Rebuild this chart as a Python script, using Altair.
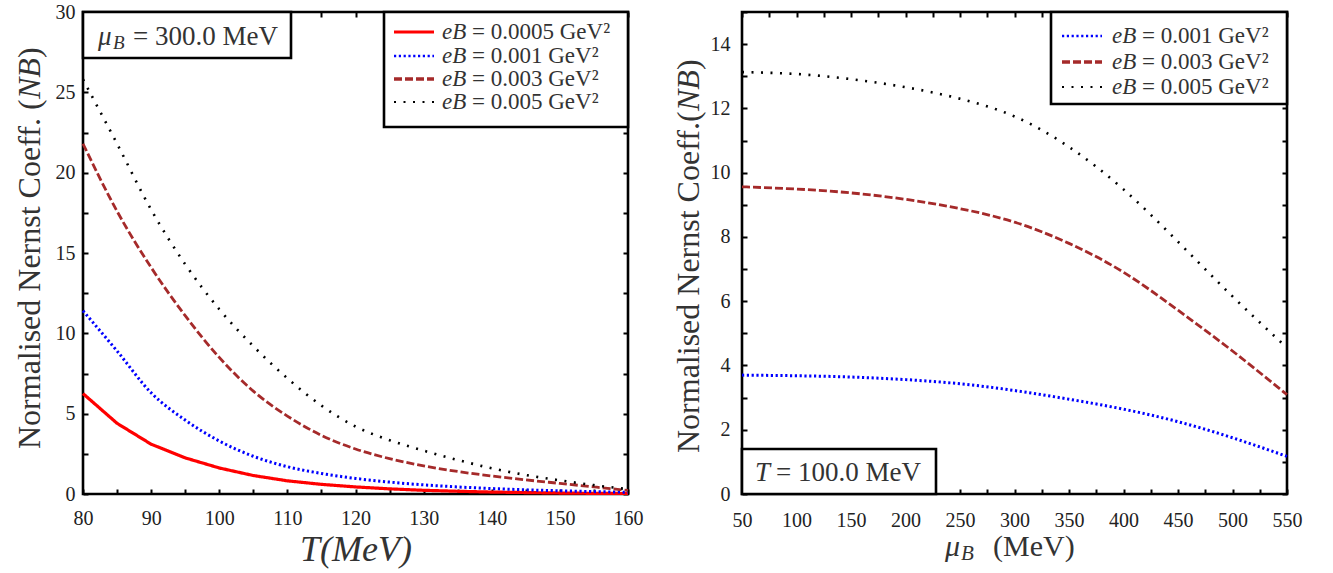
import altair as alt
import pandas as pd

# ---- Panel 1: normalised Nernst coefficient vs temperature (mu_B = 300 MeV)
T_MEV = [80, 85, 90, 95, 100, 105, 110, 115, 120, 125, 130, 135, 140, 145, 150, 155, 160]
NB_T_EB_00005 = [6.25, 4.4, 3.1, 2.25, 1.62, 1.15, 0.82, 0.6, 0.44, 0.32, 0.23, 0.17, 0.12, 0.09, 0.06, 0.04, 0.03]
NB_T_EB_0001 = [11.4, 8.9, 6.3, 4.6, 3.3, 2.35, 1.7, 1.28, 0.97, 0.74, 0.57, 0.44, 0.34, 0.26, 0.2, 0.15, 0.11]
NB_T_EB_0003 = [21.8, 17.6, 14.1, 11.1, 8.5, 6.4, 4.85, 3.65, 2.8, 2.2, 1.75, 1.4, 1.12, 0.88, 0.66, 0.44, 0.22]
NB_T_EB_0005 = [25.8, 21.8, 17.7, 14.3, 11.5, 9.2, 7.2, 5.5, 4.2, 3.35, 2.7, 2.12, 1.6, 1.18, 0.85, 0.55, 0.3]

# ---- Panel 2: normalised Nernst coefficient vs baryon chemical potential (T = 100 MeV)
MU_B_MEV = [50, 100, 150, 200, 250, 300, 350, 400, 450, 500, 550]
NB_MU_EB_0001 = [3.70, 3.68, 3.64, 3.56, 3.43, 3.22, 2.95, 2.64, 2.25, 1.75, 1.17]
NB_MU_EB_0003 = [9.56, 9.49, 9.37, 9.17, 8.88, 8.46, 7.8, 6.9, 5.72, 4.45, 3.09]
NB_MU_EB_0005 = [13.13, 13.07, 12.91, 12.66, 12.3, 11.75, 10.8, 9.48, 7.85, 6.15, 4.55]

EB_VALUES = ["0.0005", "0.001", "0.003", "0.005"]
LINE_COLOR = {"0.0005": "#ff0000", "0.001": "#0000ff", "0.003": "#a52a2a", "0.005": "#000000"}
LINE_DASH = {"0.0005": [1, 0], "0.001": [2.2, 2.6], "0.003": [8, 3], "0.005": [2, 7.5]}
LINE_WIDTH = {"0.0005": 3.2, "0.001": 2.6, "0.003": 3.3, "0.005": 2.2}

SERIF = "Liberation Serif"
TEXT = "#333333"
W, H = 545, 482


def long_table(xs, columns):
    rows = []
    for eb, ys in columns.items():
        for x, y in zip(xs, ys):
            rows.append({"x": x, "nb": y, "eB": eb})
    return pd.DataFrame(rows)


one = pd.DataFrame({"k": [0]})


def text(t, x, y, size, style="normal", align="left", angle=0, color=TEXT):
    kw = dict(text=t, align=align, baseline="middle", font=SERIF, fontSize=size,
              fontStyle=style, color=color)
    if angle:
        kw["angle"] = angle
    return alt.Chart(one).mark_text(**kw).encode(x=alt.value(x), y=alt.value(y))


def box(x1, x2, y1, y2):
    return alt.Chart(one).mark_rect(fill="white", stroke="black", strokeWidth=2.6).encode(
        x=alt.value(x1), x2=alt.value(x2), y=alt.value(y1), y2=alt.value(y2))


def sample(eb, x1, x2, y):
    return alt.Chart(one).mark_rule(
        color=LINE_COLOR[eb], strokeDash=LINE_DASH[eb], strokeWidth=LINE_WIDTH[eb]
    ).encode(x=alt.value(x1), x2=alt.value(x2), y=alt.value(y))


def axis(orient, values, label_expr=None, pad=10, show_labels=True):
    kw = dict(orient=orient, values=values, tickSize=5, offset=-5, domain=False, grid=False,
              tickColor="black", tickWidth=2, title=None, labels=show_labels)
    if show_labels:
        kw.update(labelFont=SERIF, labelFontSize=20, labelColor="#222222", labelPadding=pad,
                  labelFlush=False, labelOverlap=False, labelExpr=label_expr)
    return alt.Axis(**kw)


def panel(df, xdom, ydom, xticks, yticks, xlab, ylab, xpad, ypad, ebs, interp):
    """interp maps each eB value to the interpolation used for its curve."""
    xs = alt.Scale(domain=xdom, nice=False, zero=False)
    ys = alt.Scale(domain=ydom, nice=False, zero=False)
    layers = []
    for i, method in enumerate(sorted(set(interp.values()))):
        members = [e for e in ebs if interp[e] == method]
        first = i == 0
        layers.append(
            alt.Chart(df).transform_filter(
                alt.FieldOneOfPredicate(field="eB", oneOf=members)
            ).mark_line(interpolate=method).encode(
                x=alt.X("x:Q", scale=xs, axis=axis("bottom", xticks, xlab, xpad) if first else None),
                y=alt.Y("nb:Q", scale=ys, axis=axis("left", yticks, ylab, ypad) if first else None),
                color=alt.Color("eB:N", scale=alt.Scale(domain=ebs, range=[LINE_COLOR[e] for e in ebs]), legend=None),
                strokeDash=alt.StrokeDash("eB:N", scale=alt.Scale(domain=ebs, range=[LINE_DASH[e] for e in ebs]), legend=None),
                strokeWidth=alt.StrokeWidth("eB:N", scale=alt.Scale(domain=ebs, range=[LINE_WIDTH[e] for e in ebs]), legend=None),
            )
        )
    mirror = alt.Chart(df).mark_line(strokeOpacity=0).encode(
        x=alt.X("x:Q", scale=xs, axis=axis("top", xticks, show_labels=False)),
        y=alt.Y("nb:Q", scale=ys, axis=axis("right", yticks, show_labels=False)),
    )
    return layers, mirror


# ---------------- left panel ----------------
df_t = long_table(T_MEV, {"0.0005": NB_T_EB_00005, "0.001": NB_T_EB_0001,
                          "0.003": NB_T_EB_0003, "0.005": NB_T_EB_0005})
c1, m1 = panel(df_t, [80, 160], [0, 30],
               list(range(80, 161, 5)), [i * 2.5 for i in range(13)],
               "datum.value % 10 == 0 ? datum.label : ''",
               "datum.value % 5 == 0 ? datum.label : ''",
               14, 8, EB_VALUES,
               {"0.0005": "linear", "0.001": "monotone", "0.003": "monotone", "0.005": "monotone"})

left_layers = c1 + [m1, box(301, W, 0, 115)]
for eb, y in zip(EB_VALUES, [20, 44, 67, 90]):
    left_layers += [sample(eb, 311, 351, y),
                    text("eB", 359, y, 23, "italic"),
                    text("= " + eb + " GeV²", 389, y, 23)]
left_layers += [
    box(0, 208, 0, 46),
    text("μ", 15, 25, 27, "italic"),
    text("B", 30, 31, 19, "italic"),
    text("= 300.0 MeV", 50, 25, 27),
    # y title, drawn bottom-to-top
    text("Normalised Nernst Coeff. (", -53, 437, 32, angle=270),
    text("NB", -53, 87, 32, "italic", angle=270),
    text(")", -53, 46, 32, angle=270),
    text("T(MeV)", 273, 538, 36, "italic", align="center"),
    alt.Chart(one).mark_rule(strokeOpacity=0, strokeWidth=0).encode(
        x=alt.value(-81), x2=alt.value(-81), y=alt.value(-8), y2=alt.value(-8)),
]
left = alt.layer(*left_layers).resolve_axis(x="independent", y="independent").properties(width=W, height=H)

# ---------------- right panel ----------------
EB_RIGHT = ["0.001", "0.003", "0.005"]
df_mu = long_table(MU_B_MEV, {"0.001": NB_MU_EB_0001, "0.003": NB_MU_EB_0003, "0.005": NB_MU_EB_0005})
c2, m2 = panel(df_mu, [50, 550], [0, 15],
               list(range(50, 551, 25)), list(range(0, 16)),
               "datum.value % 50 == 0 ? datum.label : ''",
               "datum.value % 2 == 0 && datum.value < 15 ? datum.label : ''",
               16, 12, EB_RIGHT, {e: "natural" for e in EB_RIGHT})

right_layers = c2 + [m2, box(309, W, 0, 92)]
for eb, y in zip(EB_RIGHT, [24, 50, 75]):
    right_layers += [sample(eb, 320, 360, y),
                     text("eB", 370, y, 23, "italic"),
                     text("= " + eb + " GeV²", 400, y, 23)]
right_layers += [
    box(0, 194, 437, H),
    text("T", 13, 461, 27, "italic"),
    text("= 100.0 MeV", 34, 461, 27),
    text("Normalised Nernst Coeff.(", -53, 441, 32, angle=270),
    text("NB", -53, 99, 32, "italic", angle=270),
    text(")", -53, 58, 32, angle=270),
    text("μ", 203, 535, 30, "italic"),
    text("B", 219, 542, 21, "italic"),
    text("(MeV)", 251, 535, 30),
]
right = alt.layer(*right_layers).resolve_axis(x="independent", y="independent").properties(width=W, height=H)

chart = alt.hconcat(left, right, spacing=114, bounds="flush").properties(
    padding=0, background="white"
).configure_view(stroke="black", strokeWidth=2.6)

chart.save("out.html", embed_options={"renderer": "svg", "actions": False})
